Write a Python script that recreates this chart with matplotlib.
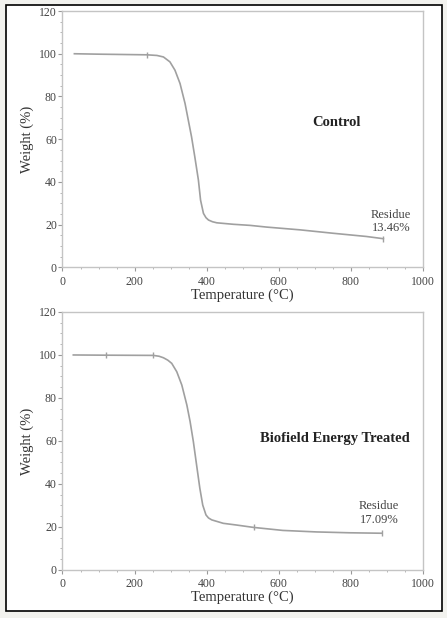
import matplotlib
matplotlib.use("Agg")
import matplotlib.pyplot as plt
from matplotlib.patches import Rectangle
from matplotlib.ticker import MultipleLocator

# Data
temp_control = [33, 100, 234, 262, 280, 298, 312, 326, 340, 349, 358, 367, 377, 383,
                391, 398, 405, 416, 428, 474, 520, 566, 659, 751, 843, 890]
weight_control = [100, 99.8, 99.5, 99.2, 98.5, 96.2, 92.3, 86.1, 76.7, 68.9, 61.1, 51.8, 40.9, 31.5,
                  25.3, 23.3, 22.2, 21.4, 20.9, 20.2, 19.7, 18.9, 17.6, 16.0, 14.5, 13.46]
marks_control = [2, 25]

temp_treated = [30, 120, 252, 268, 280, 292, 303, 317, 331, 345, 354, 363, 372, 381,
                389, 398, 405, 414, 446, 483, 530, 611, 704, 796, 885]
weight_treated = [100, 99.9, 99.8, 99.4, 98.7, 97.6, 96.1, 92.2, 86.0, 76.7, 69.0, 59.7, 48.8, 38.0,
                  30.2, 25.6, 24.2, 23.3, 21.7, 20.9, 19.8, 18.4, 17.7, 17.3, 17.09]
marks_treated = [1, 2, 20, 24]

xticks = [0, 200, 400, 600, 800, 1000]
yticks = [0, 20, 40, 60, 80, 100, 120]

panels = [
    dict(t=temp_control, w=weight_control, m=marks_control, title="Control",
         res="Residue\n13.46%", title_xy=(760, 68), res_xy=(911, 21.5),
         rect=[0.1398, 0.5672, 0.8065, 0.4150]),
    dict(t=temp_treated, w=weight_treated, m=marks_treated, title="Biofield Energy Treated",
         res="Residue\n17.09%", title_xy=(755, 61), res_xy=(878, 26.5),
         rect=[0.1398, 0.0777, 0.8065, 0.4175]),
]

serif = ["Liberation Serif", "DejaVu Serif"]
fig = plt.figure(figsize=(4.47, 6.18), dpi=100)
fig.patch.set_facecolor("#f2f2ee")
bg = fig.add_axes([0, 0, 1, 1], zorder=-10)
bg.set_xlim(0, 447)
bg.set_ylim(618, 0)
bg.axis("off")
bg.add_patch(Rectangle((6, 5), 436, 606, facecolor="white", edgecolor="black", linewidth=1.2))

for p in panels:
    ax = fig.add_axes(p["rect"])
    ax.set_facecolor("white")
    ax.plot(p["t"], p["w"], color="#a0a0a0", lw=1.2, marker="|", markevery=p["m"],
            markersize=5, markeredgewidth=1.0)
    ax.set_xlim(0, 1000)
    ax.set_ylim(0, 120)
    ax.set_xticks(xticks)
    ax.set_yticks(yticks)
    ax.xaxis.set_minor_locator(MultipleLocator(50))
    ax.yaxis.set_minor_locator(MultipleLocator(5))
    for s in ax.spines.values():
        s.set_color("#c4c4c4")
        s.set_linewidth(1.0)
    ax.tick_params(which="major", direction="out", length=3, width=0.8, color="#999999",
                   labelsize=8.5, labelcolor="#444444")
    ax.tick_params(axis="x", which="major", pad=3)
    ax.tick_params(axis="y", which="major", pad=1)
    ax.tick_params(which="minor", direction="out", length=1.5, width=0.6, color="#aaaaaa")
    for lab in ax.get_xticklabels() + ax.get_yticklabels():
        lab.set_family(serif)
    ax.set_xlabel("Temperature (°C)", family=serif, fontsize=10.5, color="#333333")
    ax.set_ylabel("Weight (%)", family=serif, fontsize=10.5, color="#333333")
    ax.xaxis.set_label_coords(0.5, -0.107, transform=ax.transAxes)
    ax.yaxis.set_label_coords(-0.098, 0.5, transform=ax.transAxes)
    ax.xaxis.label.set_va("center")
    ax.yaxis.label.set_va("center")
    ax.text(p["title_xy"][0], p["title_xy"][1], p["title"], family=serif, fontsize=10.5,
            fontweight="bold", ha="center", va="center", color="#222222")
    ax.text(p["res_xy"][0], p["res_xy"][1], p["res"], family=serif, fontsize=9,
            ha="center", va="center", color="#444444", linespacing=1.2)

fig.savefig("out.png", dpi=100, facecolor=fig.get_facecolor())
